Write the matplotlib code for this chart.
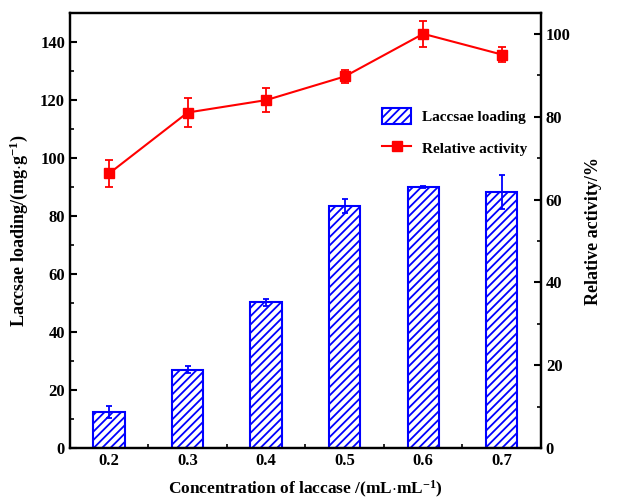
import matplotlib
matplotlib.use("Agg")
import matplotlib.pyplot as plt
from matplotlib.ticker import MultipleLocator

plt.rcParams['font.family'] = ['Liberation Serif', 'DejaVu Serif']
plt.rcParams['font.weight'] = 'bold'
plt.rcParams['axes.labelweight'] = 'bold'
plt.rcParams['mathtext.fontset'] = 'custom'
plt.rcParams['mathtext.bf'] = 'Liberation Serif:bold'
plt.rcParams['mathtext.rm'] = 'Liberation Serif:bold'
plt.rcParams['mathtext.default'] = 'bf'
plt.rcParams['hatch.color'] = 'blue'
plt.rcParams['hatch.linewidth'] = 1.3

# data
conc = [0.2, 0.3, 0.4, 0.5, 0.6, 0.7]
loading = [12.5, 27.0, 50.3, 83.5, 90.0, 88.3]
loading_err = [2.0, 1.2, 1.2, 2.5, 0.3, 5.7]
activity = [66.3, 81.0, 84.0, 89.7, 100.0, 95.0]
activity_err = [3.3, 3.5, 2.8, 1.6, 3.2, 1.8]

fig = plt.figure(figsize=(6.24, 5.04), dpi=100)
ax1 = fig.add_axes([0.112, 0.111, 0.755, 0.863])
ax2 = ax1.twinx()

bars = ax1.bar(conc, loading, width=0.04, color='white', edgecolor='blue',
               hatch='////', linewidth=1.5, label='Laccsae loading', zorder=2)
ax1.errorbar(conc, loading, yerr=loading_err, fmt='none', ecolor='blue',
             elinewidth=1.3, capsize=2.5, capthick=1.3, zorder=3)

line = ax2.errorbar(conc, activity, yerr=activity_err, color='red', marker='s',
                    markersize=6.5, linewidth=1.5, elinewidth=1.3, capsize=3,
                    capthick=1.3, label='Relative activity')

ax1.set_xlim(0.15, 0.75)
ax1.set_ylim(0, 150)
ax2.set_ylim(0, 105)
ax1.set_xticks(conc)
ax1.set_xticklabels(['0.2', '0.3', '0.4', '0.5', '0.6', '0.7'])
ax1.xaxis.set_minor_locator(MultipleLocator(0.05))
ax1.yaxis.set_major_locator(MultipleLocator(20))
ax1.yaxis.set_minor_locator(MultipleLocator(10))
ax2.yaxis.set_major_locator(MultipleLocator(20))
ax2.yaxis.set_minor_locator(MultipleLocator(10))

for ax in (ax1, ax2):
    ax.tick_params(which='major', direction='in', length=5, width=1.5, labelsize=12)
    ax.tick_params(which='minor', direction='in', length=3, width=1.2)
    for s in ax.spines.values():
        s.set_linewidth(1.6)
ax1.tick_params(axis='x', which='both', top=False)

ax1.set_xlabel(r'Concentration of laccase /(mL$\cdot$mL$^{-1}$)', fontsize=12.5, labelpad=7)
ax1.set_ylabel(r'Laccsae loading/(mg$\cdot$g$^{-1}$)', fontsize=13, labelpad=7)
ax2.set_ylabel('Relative activity/%', fontsize=13, labelpad=10)

ax2.legend([bars, line[0]], ['Laccsae loading', 'Relative activity'],
           loc='upper left', bbox_to_anchor=(0.65, 0.795), frameon=False,
           prop={'weight': 'bold', 'size': 11}, handlelength=1.9,
           handleheight=1.2, handletextpad=0.7, labelspacing=1.0,
           borderaxespad=0)

fig.savefig('out.png', dpi=100)
